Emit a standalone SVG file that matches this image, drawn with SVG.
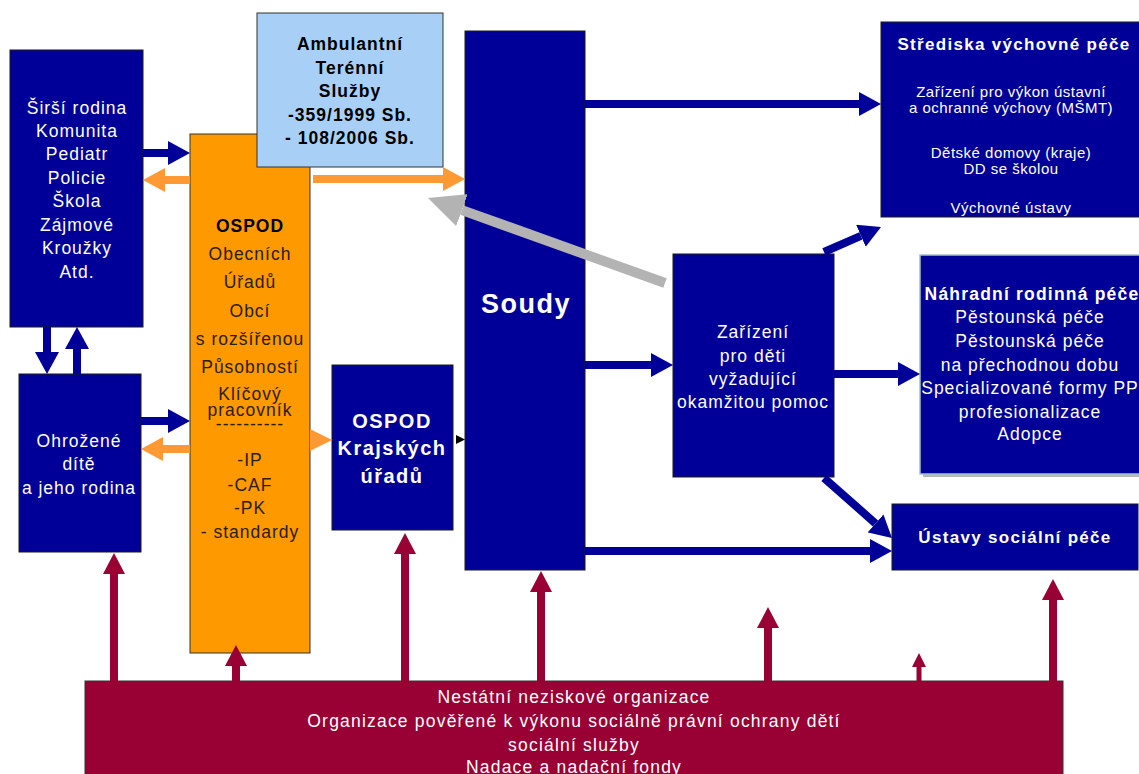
<svg xmlns="http://www.w3.org/2000/svg" width="1139" height="774" viewBox="0 0 1139 774">
<style>
.nb{fill:#000099;stroke:#1a1a1a;stroke-width:1}
.t{font-family:"Liberation Sans",Arial,sans-serif;font-size:17.5px;letter-spacing:1px;text-anchor:middle}
.w{fill:#ffffff}
.k{fill:#000000}
.o{fill:#2a2000}
.b{font-weight:bold}
.cb{stroke:#000099;stroke-width:8;fill:none;marker-end:url(#hb)}
.co{stroke:#ff9933;stroke-width:8;fill:none;marker-end:url(#ho)}
.cm{stroke:#990033;stroke-width:8;fill:none;marker-end:url(#hm)}
</style>
<defs>
<marker id="hb" viewBox="0 -12 22 24" markerWidth="22" markerHeight="24" refX="0" refY="0" orient="auto" markerUnits="userSpaceOnUse"><path d="M0,-12 L22,0 L0,12 z" fill="#000099"/></marker>
<marker id="ho" viewBox="0 -12 22 24" markerWidth="22" markerHeight="24" refX="0" refY="0" orient="auto" markerUnits="userSpaceOnUse"><path d="M0,-12 L22,0 L0,12 z" fill="#ff9933"/></marker>
<marker id="hm" viewBox="0 -11 21 22" markerWidth="21" markerHeight="22" refX="0" refY="0" orient="auto" markerUnits="userSpaceOnUse"><path d="M0,-11 L21,0 L0,11 z" fill="#990033"/></marker>
<marker id="hms" viewBox="0 -7 14 14" markerWidth="14" markerHeight="14" refX="0" refY="0" orient="auto" markerUnits="userSpaceOnUse"><path d="M0,-7 L14,0 L0,7 z" fill="#990033"/></marker>
<marker id="hg" viewBox="0 -17 36 34" markerWidth="36" markerHeight="34" refX="0" refY="0" orient="auto" markerUnits="userSpaceOnUse"><path d="M0,-17 L36,0 L0,17 z" fill="#b3b3b3"/></marker>
</defs>
<rect width="1139" height="774" fill="#ffffff"/>

<g id="sirsi">
<rect class="nb" x="10" y="50" width="133" height="277"/>
<text class="t w" x="77" y="114">Širší rodina</text>
<text class="t w" x="77" y="137">Komunita</text>
<text class="t w" x="77" y="160">Pediatr</text>
<text class="t w" x="77" y="184">Policie</text>
<text class="t w" x="77" y="207">Škola</text>
<text class="t w" x="77" y="231">Zájmové</text>
<text class="t w" x="77" y="254">Kroužky</text>
<text class="t w" x="77" y="278">Atd.</text>
</g>

<g id="ohrozene">
<rect class="nb" x="19" y="374" width="122" height="178"/>
<text class="t w" x="79" y="447">Ohrožené</text>
<text class="t w" x="79" y="470">dítě</text>
<text class="t w" x="79" y="494">a jeho rodina</text>
</g>

<g id="ospod-obce">
<rect x="190" y="134" width="120" height="519" fill="#ff9900" stroke="#333" stroke-width="1"/>
<text class="t k b" x="250" y="232">OSPOD</text>
<text class="t o" x="250" y="260">Obecních</text>
<text class="t o" x="250" y="288">Úřadů</text>
<text class="t o" x="250" y="317">Obcí</text>
<text class="t o" x="250" y="345">s rozšířenou</text>
<text class="t o" x="250" y="373">Působností</text>
<text class="t o" x="250" y="400">Klíčový</text>
<text class="t o" x="250" y="416">pracovník</text>
<text class="t o" x="250" y="430">----------</text>
<text class="t o" x="250" y="466">-IP</text>
<text class="t o" x="250" y="491">-CAF</text>
<text class="t o" x="250" y="514">-PK</text>
<text class="t o" x="250" y="538">- standardy</text>
</g>

<g id="ambulantni">
<rect x="257" y="13" width="186" height="154" fill="#a8d0f7" stroke="#333" stroke-width="1"/>
<text class="t k b" x="350" y="50">Ambulantní</text>
<text class="t k b" x="350" y="74">Terénní</text>
<text class="t k b" x="350" y="97">Služby</text>
<text class="t k b" x="350" y="121">-359/1999 Sb.</text>
<text class="t k b" x="350" y="144">- 108/2006 Sb.</text>
</g>

<g id="ospod-kraj">
<rect class="nb" x="332" y="365" width="121" height="165"/>
<text class="t w b" x="392" y="428" style="font-size:20px;letter-spacing:1.5px">OSPOD</text>
<text class="t w b" x="392" y="455" style="font-size:20px;letter-spacing:1.5px">Krajských</text>
<text class="t w b" x="392" y="483" style="font-size:20px;letter-spacing:1.5px">úřadů</text>
</g>

<g id="soudy">
<rect class="nb" x="465" y="31" width="120" height="539"/>
<text class="t w b" x="526" y="313" style="font-size:27px;letter-spacing:1.5px">Soudy</text>
</g>

<g id="zarizeni">
<rect class="nb" x="673" y="254" width="161" height="223"/>
<text class="t w" x="753" y="338">Zařízení</text>
<text class="t w" x="753" y="362">pro děti</text>
<text class="t w" x="753" y="385">vyžadující</text>
<text class="t w" x="753" y="408">okamžitou pomoc</text>
</g>

<g id="strediska">
<rect class="nb" x="881" y="22" width="270" height="195"/>
<text class="t w b" x="1014" y="50" style="font-size:17px;letter-spacing:1.3px">Střediska výchovné péče</text>
<text class="t w" x="1011" y="97" style="font-size:15px;letter-spacing:0.5px">Zařízení pro výkon ústavní</text>
<text class="t w" x="1011" y="113" style="font-size:15px;letter-spacing:0.5px">a ochranné výchovy (MŠMT)</text>
<text class="t w" x="1011" y="158" style="font-size:15px;letter-spacing:0.5px">Dětské domovy (kraje)</text>
<text class="t w" x="1011" y="174" style="font-size:15px;letter-spacing:0.5px">DD se školou</text>
<text class="t w" x="1011" y="213" style="font-size:15px;letter-spacing:0.5px">Výchovné ústavy</text>
</g>

<g id="nahradni">
<rect x="923" y="258" width="230" height="219" fill="#b8b8b8"/>
<rect x="920" y="255" width="230" height="219" fill="#000099" stroke="#9fc4c4" stroke-width="1.5"/>
<text class="t w b" x="1032" y="300" style="letter-spacing:1.2px">Náhradní rodinná péče</text>
<text class="t w" x="1030" y="323">Pěstounská péče</text>
<text class="t w" x="1030" y="347">Pěstounská péče</text>
<text class="t w" x="1030" y="371">na přechodnou dobu</text>
<text class="t w" x="1030" y="394">Specializované formy PP</text>
<text class="t w" x="1030" y="418">profesionalizace</text>
<text class="t w" x="1030" y="440">Adopce</text>
</g>

<g id="ustavy">
<rect class="nb" x="892" y="504" width="246" height="66"/>
<text class="t w b" x="1015" y="543" style="font-size:17px;letter-spacing:1.3px">Ústavy sociální péče</text>
</g>

<g id="nno">
<rect x="85" y="681" width="978" height="100" fill="#990033" stroke="#333" stroke-width="1"/>
<text class="t w" x="574" y="703" style="letter-spacing:1.2px">Nestátní neziskové organizace</text>
<text class="t w" x="574" y="727" style="letter-spacing:1.2px">Organizace pověřené k výkonu sociálně právní ochrany dětí</text>
<text class="t w" x="574" y="751" style="letter-spacing:1.2px">sociální služby</text>
<text class="t w" x="574" y="773" style="letter-spacing:1.2px">Nadace a nadační fondy</text>
</g>

<g id="connectors">
<line class="cb" x1="143" y1="153" x2="168" y2="153"/>
<line class="cb" x1="141" y1="421" x2="168" y2="421"/>
<line class="cb" x1="47" y1="327" x2="47" y2="352"/>
<line class="cb" x1="77" y1="374" x2="77" y2="349"/>
<line class="cb" x1="585" y1="104" x2="859" y2="104"/>
<line class="cb" x1="585" y1="365" x2="651" y2="365"/>
<line class="cb" x1="585" y1="551" x2="870" y2="551"/>
<line class="cb" x1="824" y1="252" x2="860.9" y2="235.8"/>
<line class="cb" x1="834" y1="374" x2="898" y2="374"/>
<line class="cb" x1="824" y1="478" x2="875.5" y2="523.4"/>
<line class="co" x1="190" y1="180" x2="165" y2="180"/>
<line class="co" x1="313" y1="179" x2="443" y2="179"/>
<line class="co" x1="190" y1="449" x2="163" y2="449"/>
<polygon points="310,429 332,440 310,451" fill="#ff9933"/>
<polygon points="456,435 465,439.5 456,444" fill="#000000"/>
<line x1="665" y1="283" x2="461.9" y2="210.1" stroke="#b3b3b3" stroke-width="10" marker-end="url(#hg)"/>
<line class="cm" x1="114" y1="681" x2="114" y2="574"/>
<line class="cm" x1="236" y1="681" x2="236" y2="666"/>
<line class="cm" x1="405" y1="681" x2="405" y2="554"/>
<line class="cm" x1="541" y1="681" x2="541" y2="592"/>
<line class="cm" x1="768" y1="681" x2="768" y2="628"/>
<line x1="919" y1="681" x2="919" y2="667" stroke="#990033" stroke-width="5" marker-end="url(#hms)"/>
<line class="cm" x1="1053" y1="681" x2="1053" y2="600"/>
</g>
</svg>
